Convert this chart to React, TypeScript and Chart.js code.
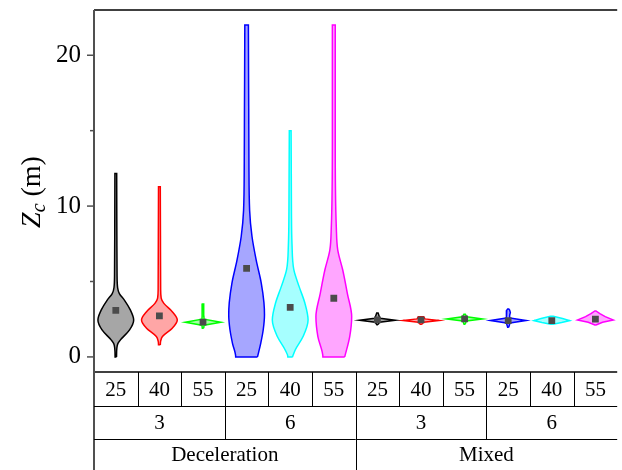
import React, { useEffect, useRef } from 'react';
import { Chart, registerables } from 'chart.js';

Chart.register(...registerables);

// ---------- data ----------
const modeLabels = ['Deceleration', 'Mixed'];
const rateLabels = ['3', '6', '3', '6'];
const speedLabels = ['25', '40', '55', '25', '40', '55', '25', '40', '55', '25', '40', '55'];

const yTickValues = [0, 5, 10, 15, 20];
const yTickLabels = ['0', '', '10', '', '20'];

const meanValues = [3.09, 2.72, 2.3, 5.87, 3.29, 3.89, 2.45, 2.45, 2.52, 2.41, 2.41, 2.5];

// violin profiles: [Zc value, relative density (1 = widest)]
const decel3v25 = [[0, 0.04], [0.6, 0.06], [0.9, 0.12], [1.13, 0.26], [1.79, 0.77], [2.45, 1.0], [3.1, 0.82], [3.77, 0.48], [4.2, 0.2], [4.6, 0.1], [5.5, 0.07], [8, 0.06], [12.16, 0.05]];
const decel3v40 = [[0.8, 0.05], [1.05, 0.07], [1.35, 0.17], [1.9, 0.72], [2.45, 1.0], [3.0, 0.72], [3.55, 0.25], [3.9, 0.1], [4.5, 0.07], [8, 0.06], [11.28, 0.05]];
const decel3v55 = [[1.9, 0.04], [2.1, 0.06], [2.3, 1.0], [2.5, 0.06], [2.7, 0.05], [3.51, 0.04]];
const decel6v25 = [[0, 0.61], [0.9, 0.79], [1.8, 0.93], [2.8, 1.0], [3.6, 0.97], [4.9, 0.82], [6.4, 0.54], [8.0, 0.3], [9.7, 0.17], [13, 0.13], [16.4, 0.12], [22.0, 0.1]];
const decel6v40 = [[0, 0.13], [0.46, 0.28], [1.35, 0.72], [2.45, 1.0], [3.57, 0.82], [4.66, 0.5], [5.8, 0.2], [7.5, 0.1], [9.7, 0.07], [15.0, 0.05]];
const decel6v55 = [[0, 0.61], [1.35, 0.89], [2.67, 1.0], [4.2, 0.76], [5.76, 0.5], [7.1, 0.22], [8.6, 0.14], [14.2, 0.08], [22.0, 0.08]];
const mixed3v25 = [[2.14, 0.03], [2.3, 0.12], [2.43, 1.0], [2.56, 0.15], [2.7, 0.1], [2.91, 0.04]];
const mixed3v40 = [[2.16, 0.04], [2.3, 0.15], [2.41, 1.0], [2.52, 0.22], [2.67, 0.15]];
const mixed3v55 = [[2.16, 0.03], [2.38, 0.1], [2.52, 1.0], [2.66, 0.12], [2.83, 0.04]];
const mixed6v25 = [[1.97, 0.03], [2.25, 0.1], [2.41, 1.0], [2.58, 0.1], [2.75, 0.08], [2.95, 0.12], [3.1, 0.08], [3.18, 0.03]];
const mixed6v40 = [[2.16, 0.06], [2.28, 0.55], [2.41, 1.0], [2.55, 0.6], [2.69, 0.08]];
const mixed6v55 = [[2.12, 0.03], [2.3, 0.4], [2.45, 1.0], [2.67, 0.55], [2.87, 0.25], [3.05, 0.03]];

const profiles = [decel3v25, decel3v40, decel3v55, decel6v25, decel6v40, decel6v55,
  mixed3v25, mixed3v40, mixed3v55, mixed6v25, mixed6v40, mixed6v55];

// ---------- styles ----------
const lineColors = ['#000000', '#ff0000', '#00ff00', '#0000ff', '#00ffff', '#ff00ff'];
const fillColors = ['#a6a6a6', '#ffa6a6', '#a6ffa6', '#a6a6ff', '#a6ffff', '#ffa6ff'];
const smoothShape = [true, true, false, true, true, true, false, false, false, false, false, false];
const HALF = 0.41;
const SERIF = '"Liberation Serif", serif';

function outline(i: number, prof: number[][]) {
  const right = prof.map(([v, d]) => ({ x: i + d * HALF, y: v }));
  const left = prof.slice().reverse().map(([v, d]) => ({ x: i - d * HALF, y: v }));
  return [...right, ...left, { ...right[0] }];
}

const framePlugin = {
  id: 'frame',
  afterDraw(chart: any) {
    const { ctx, chartArea, scales } = chart;
    const xs = scales.x;
    const ys = scales.y;
    const L = chartArea.left, R = chartArea.right, T = chartArea.top, B = chartArea.bottom;
    const H = chart.height;
    ctx.save();
    ctx.strokeStyle = '#000';
    ctx.lineWidth = 1.5;
    ctx.beginPath(); ctx.moveTo(L, T); ctx.lineTo(R, T); ctx.stroke();
    ctx.beginPath(); ctx.moveTo(L, B); ctx.lineTo(R, B); ctx.stroke();
    ctx.strokeStyle = '#505050';
    ctx.lineWidth = 2;
    ctx.beginPath(); ctx.moveTo(L, T); ctx.lineTo(L, H); ctx.stroke();
    ctx.lineWidth = 1.5;
    yTickValues.forEach((v, k) => {
      const py = ys.getPixelForValue(v);
      const len = yTickLabels[k] ? 7 : 4;
      ctx.beginPath(); ctx.moveTo(L - len, py); ctx.lineTo(L, py); ctx.stroke();
    });
    const r1 = B + 34, r2 = B + 67;
    ctx.strokeStyle = '#000';
    ctx.lineWidth = 1;
    ctx.beginPath();
    ctx.moveTo(L, Math.round(r1) + 0.5); ctx.lineTo(R, Math.round(r1) + 0.5);
    ctx.moveTo(L, Math.round(r2) + 0.5); ctx.lineTo(R, Math.round(r2) + 0.5);
    for (let k = 1; k < speedLabels.length; k++) {
      const px = Math.round(xs.getPixelForValue(k - 0.5)) + 0.5;
      ctx.moveTo(px, B); ctx.lineTo(px, r1);
      if (k % 3 === 0) { ctx.moveTo(px, r1); ctx.lineTo(px, r2); }
      if (k % 6 === 0) { ctx.moveTo(px, r2); ctx.lineTo(px, H); }
    }
    ctx.stroke();
    ctx.fillStyle = '#000';
    ctx.textAlign = 'center';
    ctx.textBaseline = 'middle';
    ctx.font = `21px ${SERIF}`;
    speedLabels.forEach((t, k) => ctx.fillText(t, xs.getPixelForValue(k), (B + r1) / 2 + 1));
    rateLabels.forEach((t, k) => ctx.fillText(t, xs.getPixelForValue(k * 3 + 1), (r1 + r2) / 2 + 1));
    modeLabels.forEach((t, k) => ctx.fillText(t, xs.getPixelForValue(k * 6 + 2.5), (r2 + H) / 2 + 1));
    const pieces = [
      { t: 'Z', f: `italic 28px ${SERIF}`, dy: 0 },
      { t: 'c', f: `italic 20px ${SERIF}`, dy: 5 },
      { t: ' (m)', f: `28px ${SERIF}`, dy: 0 },
    ];
    let total = 0;
    const widths = pieces.map((p) => { ctx.font = p.f; const w = ctx.measureText(p.t).width; total += w; return w; });
    ctx.translate(L - 54, (T + B) / 2 + 1);
    ctx.rotate(-Math.PI / 2);
    ctx.textAlign = 'left';
    ctx.textBaseline = 'alphabetic';
    let cx = -total / 2;
    pieces.forEach((p, k) => { ctx.font = p.f; ctx.fillText(p.t, cx, p.dy); cx += widths[k]; });
    ctx.restore();
  },
};

export default function App() {
  const ref = useRef<HTMLCanvasElement | null>(null);
  useEffect(() => {
    if (!ref.current) return;
    const violinSets = profiles.map((prof, i) => ({
      type: 'line',
      data: outline(i, prof),
      indexAxis: 'y',
      borderColor: lineColors[i % 6],
      backgroundColor: fillColors[i % 6],
      borderWidth: 1.5,
      fill: 'shape',
      pointRadius: 0,
      cubicInterpolationMode: smoothShape[i] ? 'monotone' : 'default',
      tension: 0,
      order: 2,
    }));
    const meanSet = {
      type: 'line',
      data: meanValues.map((v, i) => ({ x: i, y: v })),
      showLine: false,
      pointStyle: 'rect',
      pointRadius: 4.8,
      pointBackgroundColor: '#4b4b4b',
      pointBorderWidth: 0,
      order: 0,
    };
    const chart = new Chart(ref.current, {
      type: 'line',
      data: { datasets: [meanSet, ...violinSets] as any },
      options: {
        responsive: false,
        animation: false,
        devicePixelRatio: 1,
        events: [],
        layout: { padding: { top: 10, left: 0, right: 0, bottom: 0 } },
        plugins: { legend: { display: false }, tooltip: { enabled: false }, title: { display: false } },
        scales: {
          x: {
            type: 'linear', min: -0.5, max: 11.5,
            ticks: { display: false }, grid: { display: false }, border: { display: false },
            afterFit: (s: any) => { s.height = 98; s.paddingLeft = 0; s.paddingRight = 0; },
          },
          y: {
            type: 'linear', min: -1, max: 23,
            afterBuildTicks: (s: any) => { s.ticks = yTickValues.map((v) => ({ value: v })); },
            ticks: {
              callback: (v: any) => { const k = yTickValues.indexOf(Number(v)); return k >= 0 ? yTickLabels[k] : ''; },
              font: { family: SERIF, size: 25 }, color: '#000', padding: 13, autoSkip: false, maxRotation: 0,
            },
            grid: { display: false, drawTicks: false },
            border: { display: false },
            afterFit: (s: any) => { s.width = 94; s.paddingTop = 0; s.paddingBottom = 0; },
          },
        },
      } as any,
      plugins: [framePlugin],
    });
    return () => chart.destroy();
  }, []);
  return (
    <div style={{ position: 'absolute', left: 0, top: 0, width: 622, height: 470 }}>
      <canvas ref={ref} width={622} height={470} style={{ display: 'block' }} />
    </div>
  );
}
